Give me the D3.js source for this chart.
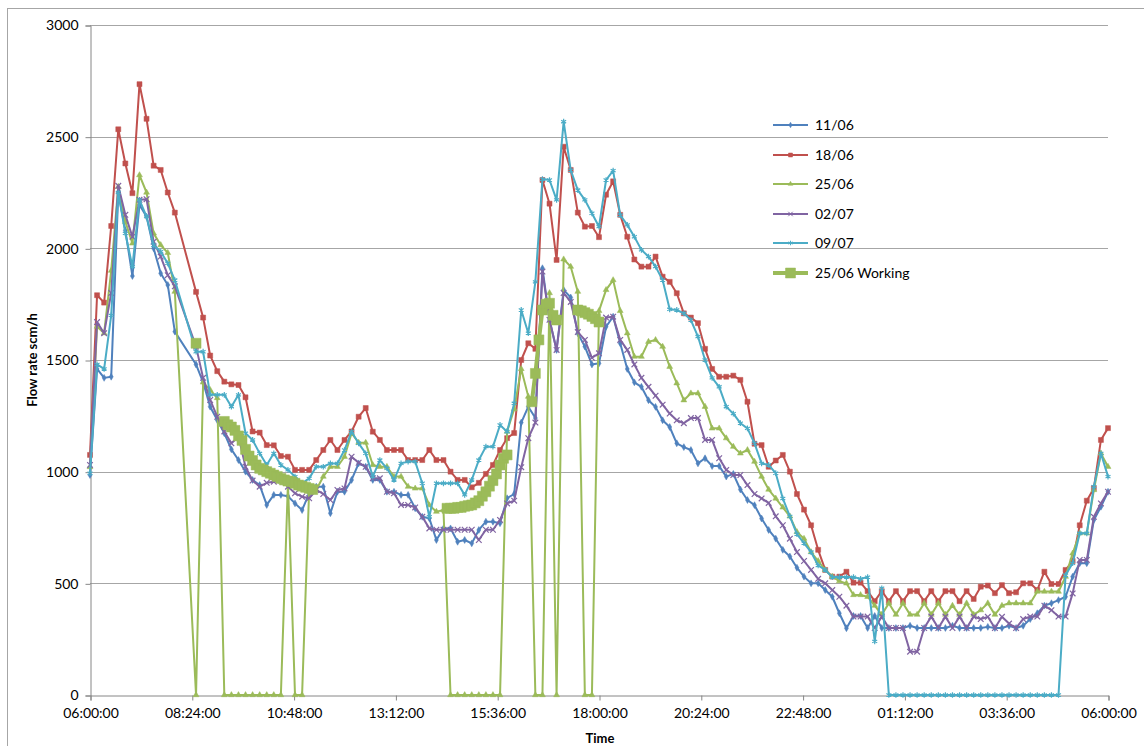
<!DOCTYPE html>
<html><head><meta charset="utf-8">
<script src="https://cdn.jsdelivr.net/npm/d3@7"></script>
<style>
body{margin:0;background:#fff;}
text{font-family: Lato, "Liberation Sans", Arial, sans-serif;}
</style>
</head><body>
<svg id="chart" width="1144" height="746"></svg>
<script>
const seriesNames = ["11/06","18/06","25/06","02/07","09/07","25/06 Working"];
const tickLabels = ["06:00:00","08:24:00","10:48:00","13:12:00","15:36:00","18:00:00","20:24:00","22:48:00","01:12:00","03:36:00","06:00:00"];
const tickMinutes = [0,144,288,432,576,720,864,1008,1152,1296,1440];
const yTicks = [0,500,1000,1500,2000,2500,3000];
// sample times: minutes after 06:00, every 10 minutes
const minutes = d3.range(0, 1441, 10);

const s1106 = [985,1460,1420,1425,2250,2080,1876,2195,2142,2000,
1888,1836,1627,null,null,1480,1400,1291,1231,1172,
1100,1052,1000,963,940,851,896,896,890,858,
828,903,933,933,814,910,910,963,1037,1022,
963,963,910,910,896,896,836,798,791,694,
746,746,686,694,679,739,776,776,769,881,
900,1220,1291,1240,1911,1679,1545,1814,1780,1620,
1560,1480,1485,1649,1694,1575,1460,1400,1380,1320,
1290,1230,1200,1127,1110,1097,1037,1060,1025,1025,
978,990,920,873,850,790,739,700,650,620,
570,530,500,500,470,440,366,299,354,354,
300,354,300,300,300,300,310,300,300,300,
300,300,310,300,300,300,300,305,300,300,
310,300,310,340,366,400,411,425,440,530,
590,590,784,843,910];

const s1806 = [1075,1790,1757,2100,2533,2380,2247,2735,2580,2370,
2351,2250,2160,null,null,1805,1690,1520,1450,1403,
1391,1388,1333,1180,1175,1119,1118,1070,1067,1008,
1008,1008,1052,1097,1142,1097,1142,1180,1246,1285,
1179,1142,1097,1097,1097,1052,1052,1052,1097,1052,
1052,1000,963,963,930,950,990,1030,1097,1150,
1173,1500,1575,1550,2306,2200,1948,2455,2351,2160,
2097,2100,2050,2240,2300,2150,2052,1950,1918,1918,
1963,1873,1850,1799,1709,1690,1665,1550,1460,1425,
1425,1430,1411,1313,1125,1119,1022,1050,1075,1000,
900,830,760,650,560,530,530,552,503,503,
465,420,465,420,465,420,465,465,420,465,
420,465,465,420,465,430,485,490,456,492,
456,460,500,500,470,552,497,497,560,600,
760,870,926,1142,1195];

const s2506 = [1021,1650,1620,1900,2276,2119,2022,2328,2250,2067,
2015,1980,1806,null,null,0,1400,1366,1330,0,
0,0,0,0,0,0,0,0,950,0,
0,918,918,978,1022,1022,1067,1172,1130,1130,
1030,1022,1022,978,978,933,925,925,850,821,
828,0,0,0,0,0,0,0,0,1180,
1280,1460,1336,0,0,1800,0,1951,1918,1806,
0,0,1720,1814,1858,1720,1620,1515,1515,1582,
1590,1560,1470,1396,1320,1351,1351,1291,1194,1194,
1150,1112,1082,1097,1045,978,920,880,840,800,
730,700,640,600,560,530,510,500,448,448,
440,400,360,411,360,411,360,360,411,360,
411,360,400,360,411,360,380,411,360,400,
411,411,411,411,463,463,463,463,530,634,
724,724,918,1082,1022];

const s0207 = [1030,1670,1620,1800,2280,2150,2052,2217,2220,2030,
1963,1880,1830,null,null,1560,1420,1321,1246,1180,
1127,1157,1022,960,933,950,955,960,933,903,
888,881,918,900,873,918,925,1067,1040,1022,
970,970,910,903,851,851,840,798,746,740,
740,740,740,740,740,694,740,740,784,858,
870,1020,1150,1220,1896,1680,1545,1800,1760,1625,
1590,1510,1530,1690,1694,1590,1545,1480,1420,1380,
1340,1300,1260,1230,1217,1240,1240,1142,1142,1060,
1008,985,985,940,900,880,860,800,760,700,
640,600,560,520,500,470,440,400,351,351,
351,300,351,300,300,300,194,194,300,351,
300,351,300,351,300,351,340,350,300,350,
320,300,340,351,351,400,380,351,351,455,
605,605,798,858,910];

const s0907 = [993,1480,1460,1700,2250,2067,1918,2217,2142,2015,
1985,1933,1858,null,null,1537,1537,1344,1344,1344,
1291,1344,1172,1142,1082,1030,1082,1030,1008,978,
948,970,1022,1022,1037,1037,1097,1179,1127,1082,
978,1052,1015,963,1037,1045,1045,948,798,948,
948,948,948,896,963,1052,1112,1112,1209,1179,
1306,1724,1620,1850,2310,2306,2217,2567,2350,2261,
2217,2157,2097,2306,2348,2149,2105,2052,1993,1963,
1918,1858,1727,1724,1709,1679,1605,1500,1420,1380,
1291,1260,1217,1194,1127,1037,1030,993,880,800,
720,680,640,580,560,528,528,528,528,520,
528,240,478,0,0,0,0,0,0,0,
0,0,0,0,0,0,0,0,0,0,
0,0,0,0,0,0,0,0,537,590,
724,724,933,1082,978];

// "25/06 Working": own sample times (minutes after 06:00); null breaks the line
const workingMinutes = [150, 152,
190,195,200,205,210,215,220,225,230,235,240,245,250,255,260,265,270,275,280,285,290,295,300,305,310,315,
317,
505,510,515,520,525,530,535,540,545,550,555,560,565,570,575,580,585,590,
592,
625,630,635,640,645,650,655,660,
662,
690,695,700,705,710,715,720];
const workingValues = [1575, null,
1225,1210,1200,1185,1160,1140,1100,1070,1050,1030,1015,1008,1000,993,985,978,970,963,958,955,948,940,935,930,925,920,
null,
836,836,836,840,840,845,848,851,860,870,890,910,935,960,990,1030,1060,1075,
null,
1313,1440,1590,1724,1750,1754,1700,1679,
null,
1724,1720,1712,1705,1695,1685,1670];

const colors = ["#4F81BD","#C0504D","#9BBB59","#8064A2","#4BACC6","#9BBB59"];
const seriesValues = [s1106, s1806, s2506, s0207, s0907];

(function(){
const svg = d3.select("#chart");
const pL = 90, pR = 1108, pT = 25, pB = 695;

svg.append("rect").attr("x",7.5).attr("y",8.5).attr("width",1200).attr("height",800)
  .attr("fill","none").attr("stroke","#a6a6a6").attr("stroke-width",1);

const x = d3.scaleLinear().domain([0,1440]).range([pL,pR]);
const y = d3.scaleLinear().domain([0,3000]).range([pB,pT]);

svg.append("g").selectAll("line").data(yTicks.filter(d=>d>0)).join("line")
  .attr("x1",pL).attr("x2",pR).attr("y1",d=>Math.round(y(d))+0.5).attr("y2",d=>Math.round(y(d))+0.5)
  .attr("stroke","#a6a6a6").attr("stroke-width",1);

const yAxis = d3.axisLeft(y).tickValues(yTicks).tickSize(5).tickPadding(7).tickFormat(d3.format("d"));
const gy = svg.append("g").attr("transform",`translate(${pL+0.5},0.5)`).call(yAxis);
gy.select(".domain").attr("stroke","#868686");
gy.selectAll(".tick line").attr("stroke","#868686");
gy.selectAll("text").attr("font-size",14).attr("fill","#000").style("font-family","Lato, 'Liberation Sans', Arial, sans-serif");

const xAxis = d3.axisBottom(x).tickValues(tickMinutes).tickSize(5).tickPadding(8)
  .tickFormat((d,i)=>tickLabels[i]);
const gx = svg.append("g").attr("transform",`translate(0.5,${pB+0.5})`).call(xAxis);
gx.select(".domain").attr("stroke","#868686");
gx.selectAll(".tick line").attr("stroke","#868686");
gx.selectAll("text").attr("font-size",14).attr("fill","#000").style("font-family","Lato, 'Liberation Sans', Arial, sans-serif");

svg.append("text").attr("x",600).attr("y",743).attr("text-anchor","middle")
  .attr("font-size",13).attr("font-weight","bold").text("Time");
svg.append("text").attr("transform","translate(37,360) rotate(-90)").attr("text-anchor","middle")
  .attr("font-size",13).attr("font-weight","bold").text("Flow rate scm/h");

function markerPath(k, s){
  if(k===0) return d3.symbol(d3.symbolDiamond, s*s*0.55)();
  if(k===1) return d3.symbol(d3.symbolSquare, s*s)();
  if(k===2) return d3.symbol(d3.symbolTriangle, s*s*0.6)();
  if(k===3) return d3.symbol(d3.symbolTimes, s*s*0.9)();
  if(k===4) return d3.symbol(d3.symbolAsterisk, s*s*0.9)();
  return d3.symbol(d3.symbolSquare, s*s)();
}

const plot = svg.append("g");
seriesValues.forEach((vals,k)=>{
  const pts = minutes.map((m,i)=>({m, v: vals[i]})).filter(d=>d.v!==null);
  const col = colors[k];
  const line = d3.line().x(d=>x(d.m)).y(d=>y(d.v));
  plot.append("path").attr("d",line(pts)).attr("fill","none").attr("stroke",col)
    .attr("stroke-width",2).attr("stroke-linejoin","round");
  const stroked = (k===3||k===4);
  plot.append("g").selectAll("path").data(pts).join("path")
    .attr("transform",d=>`translate(${x(d.m)},${y(d.v)})`)
    .attr("d",markerPath(k, 5))
    .attr("fill", stroked ? "none" : col)
    .attr("stroke", col).attr("stroke-width", stroked ? 1.2 : 0.5);
});

// working series
const wpts = workingMinutes.map((m,i)=>({m, v: workingValues[i]}));
const wline = d3.line().defined(d=>d.v!==null).x(d=>x(d.m)).y(d=>y(d.v));
plot.append("path").attr("d",wline(wpts)).attr("fill","none").attr("stroke",colors[5])
  .attr("stroke-width",4).attr("stroke-linejoin","round");
plot.append("g").selectAll("path").data(wpts.filter(d=>d.v!==null)).join("path")
  .attr("transform",d=>`translate(${x(d.m)},${y(d.v)})`)
  .attr("d",markerPath(5, 10)).attr("fill",colors[5]).attr("stroke",colors[5]).attr("stroke-width",0.5);

const legY = [125,155,184,214,243,273];
const leg = svg.append("g");
seriesNames.forEach((name,k)=>{
  const g = leg.append("g").attr("transform",`translate(0,${legY[k]})`);
  g.append("line").attr("x1",773).attr("x2",808).attr("y1",0).attr("y2",0)
    .attr("stroke",colors[k]).attr("stroke-width",k===5?4:2);
  const stroked = (k===3||k===4);
  g.append("path").attr("transform","translate(790.5,0)").attr("d",markerPath(k, k===5?10:4))
    .attr("fill", stroked ? "none" : colors[k]).attr("stroke",colors[k]).attr("stroke-width", stroked?1:0.5);
  g.append("text").attr("x",815).attr("y",5).attr("font-size",14).attr("fill","#000").text(name);
});
})();
</script>
</body></html>
